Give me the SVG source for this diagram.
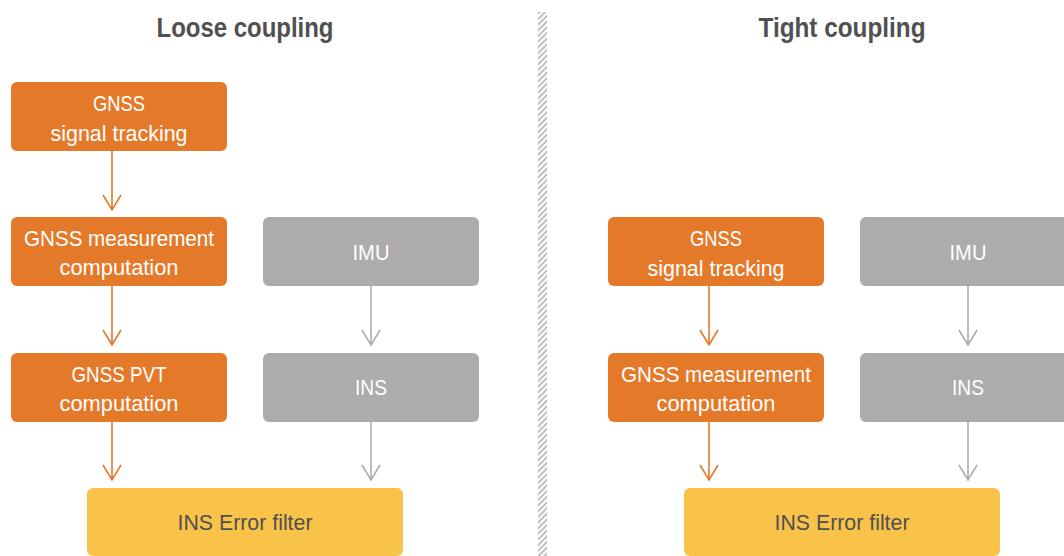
<svg xmlns="http://www.w3.org/2000/svg" width="1064" height="556" viewBox="0 0 1064 556">
  <style>
    .title { font-family: "Liberation Sans", Arial, sans-serif; font-weight: bold; font-size: 27px; fill: #505050; text-anchor: middle; }
    .lbl { font-family: "Liberation Sans", Arial, sans-serif; font-size: 22px; fill: #ffffff; text-anchor: middle; }
    .lbl-dark { font-family: "Liberation Sans", Arial, sans-serif; font-size: 22px; fill: #505050; text-anchor: middle; }
    .orange { fill: #E5792A; }
    .gray { fill: #ADACAB; }
    .yellow { fill: #F9C34A; }
    .c-orange { stroke: #E5792A; stroke-width: 1.6; fill: none; }
    .c-gray { stroke: #ADADAD; stroke-width: 1.6; fill: none; }
  </style>
  <defs>
    <pattern id="hatch" patternUnits="userSpaceOnUse" width="4" height="4" patternTransform="rotate(-45)">
      <rect x="0" y="0" width="4" height="4" fill="#ffffff"/>
      <line x1="0" y1="2" x2="4" y2="2" stroke="#B5B5B5" stroke-width="1.7"/>
    </pattern>
  </defs>

  <rect width="1064" height="556" fill="#ffffff"/>

  <!-- divider -->
  <rect id="divider" x="538" y="12" width="9" height="544" fill="url(#hatch)"/>

  <!-- titles -->
  <text class="title" x="245" y="37" textLength="177" lengthAdjust="spacingAndGlyphs">Loose coupling</text>
  <text class="title" x="842" y="37" textLength="167" lengthAdjust="spacingAndGlyphs">Tight coupling</text>

  <!-- Loose coupling nodes -->
  <g id="loose-gnss-tracking">
    <rect class="orange" x="11" y="82" width="216" height="69" rx="6"/>
    <text class="lbl" x="119" y="111" textLength="52" lengthAdjust="spacingAndGlyphs">GNSS</text>
    <text class="lbl" x="119" y="141" textLength="137" lengthAdjust="spacingAndGlyphs">signal tracking</text>
  </g>
  <g id="loose-gnss-measurement">
    <rect class="orange" x="11" y="217" width="216" height="69" rx="6"/>
    <text class="lbl" x="119" y="246" textLength="190" lengthAdjust="spacingAndGlyphs">GNSS measurement</text>
    <text class="lbl" x="119" y="275" textLength="119" lengthAdjust="spacingAndGlyphs">computation</text>
  </g>
  <g id="loose-gnss-pvt">
    <rect class="orange" x="11" y="353" width="216" height="69" rx="6"/>
    <text class="lbl" x="119" y="382" textLength="95" lengthAdjust="spacingAndGlyphs">GNSS PVT</text>
    <text class="lbl" x="119" y="411" textLength="119" lengthAdjust="spacingAndGlyphs">computation</text>
  </g>
  <g id="loose-imu">
    <rect class="gray" x="263" y="217" width="216" height="69" rx="6"/>
    <text class="lbl" x="371" y="260" textLength="37" lengthAdjust="spacingAndGlyphs">IMU</text>
  </g>
  <g id="loose-ins">
    <rect class="gray" x="263" y="353" width="216" height="69" rx="6"/>
    <text class="lbl" x="371" y="395" textLength="32" lengthAdjust="spacingAndGlyphs">INS</text>
  </g>
  <g id="loose-filter">
    <rect class="yellow" x="87" y="488" width="316" height="68" rx="6"/>
    <text class="lbl-dark" x="245" y="530" textLength="135" lengthAdjust="spacingAndGlyphs">INS Error filter</text>
  </g>

  <!-- Tight coupling nodes -->
  <g id="tight-gnss-tracking">
    <rect class="orange" x="608" y="217" width="216" height="69" rx="6"/>
    <text class="lbl" x="716" y="246" textLength="52" lengthAdjust="spacingAndGlyphs">GNSS</text>
    <text class="lbl" x="716" y="276" textLength="137" lengthAdjust="spacingAndGlyphs">signal tracking</text>
  </g>
  <g id="tight-gnss-measurement">
    <rect class="orange" x="608" y="353" width="216" height="69" rx="6"/>
    <text class="lbl" x="716" y="382" textLength="190" lengthAdjust="spacingAndGlyphs">GNSS measurement</text>
    <text class="lbl" x="716" y="411" textLength="119" lengthAdjust="spacingAndGlyphs">computation</text>
  </g>
  <g id="tight-imu">
    <rect class="gray" x="860" y="217" width="216" height="69" rx="6"/>
    <text class="lbl" x="968" y="260" textLength="37" lengthAdjust="spacingAndGlyphs">IMU</text>
  </g>
  <g id="tight-ins">
    <rect class="gray" x="860" y="353" width="216" height="69" rx="6"/>
    <text class="lbl" x="968" y="395" textLength="32" lengthAdjust="spacingAndGlyphs">INS</text>
  </g>
  <g id="tight-filter">
    <rect class="yellow" x="684" y="488" width="316" height="68" rx="6"/>
    <text class="lbl-dark" x="842" y="530" textLength="135" lengthAdjust="spacingAndGlyphs">INS Error filter</text>
  </g>

  <!-- connectors -->
  <g id="connectors">
    <path class="c-orange" d="M112,151 V210 M103,195 L112,210 L121,195"/>
    <path class="c-orange" d="M112,286 V345 M103,330 L112,345 L121,330"/>
    <path class="c-orange" d="M112,422 V480 M103,465 L112,480 L121,465"/>
    <path class="c-gray" d="M371,286 V345 M362,330 L371,345 L380,330"/>
    <path class="c-gray" d="M371,422 V480 M362,465 L371,480 L380,465"/>

    <path class="c-orange" d="M709,286 V345 M700,330 L709,345 L718,330"/>
    <path class="c-orange" d="M709,422 V480 M700,465 L709,480 L718,465"/>
    <path class="c-gray" d="M968,286 V345 M959,330 L968,345 L977,330"/>
    <path class="c-gray" d="M968,422 V480 M959,465 L968,480 L977,465"/>
  </g>
</svg>
